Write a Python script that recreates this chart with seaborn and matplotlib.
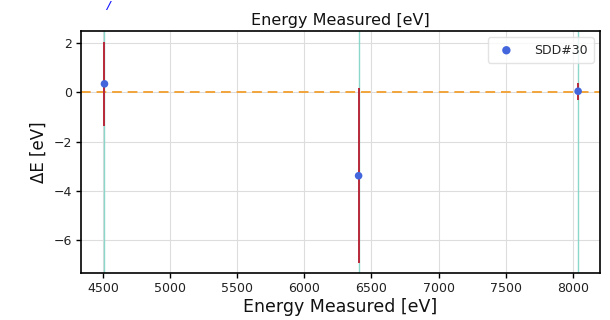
import matplotlib
matplotlib.use("Agg")
import matplotlib.pyplot as plt
import seaborn as sns
import pandas as pd

# Data
energy = [4510, 6404, 8040]
delta_e = [0.35, -3.39, 0.05]
delta_err = [1.70, 3.57, 0.35]
label = "SDD#30"

sns.set_style("whitegrid")
plt.rcParams['font.family'] = ['DejaVu Sans']

fig = plt.figure(figsize=(6.1, 3.2), dpi=100)
ax = fig.add_axes([0.133, 0.146, 0.8506, 0.757])

df = pd.DataFrame({"E": energy, "dE": delta_e, "err": delta_err})

for e in energy:
    ax.axvline(e, color="#7fd3c4", lw=1.0, alpha=0.9, zorder=1)
ax.axhline(0, color="#f2a43a", lw=1.4, ls=(0, (5, 3)), zorder=2)
ax.errorbar(df["E"], df["dE"], yerr=df["err"], fmt="none",
            ecolor="#b8283a", elinewidth=1.4, zorder=3)
sns.scatterplot(data=df, x="E", y="dE", ax=ax, color="#4466dd", s=30,
                edgecolor="none", label=label, zorder=4)

ax.set_xlim(4336, 8203)
ax.set_ylim(-7.36, 2.5)
ax.set_xticks([4500, 5000, 5500, 6000, 6500, 7000, 7500, 8000])
ax.set_yticks([2, 0, -2, -4, -6])
ax.set_yticklabels(["2", "0", "\u22122", "\u22124", "\u22126"])
ax.grid(True, color="#dddddd", lw=0.8)
for s in ax.spines.values():
    s.set_color("black")
    s.set_linewidth(1.2)
ax.tick_params(axis="both", which="major", length=3.5, width=1, color="black",
               labelsize=9, labelcolor="#222222", bottom=True, left=True, pad=3)

ax.set_title("Energy Measured [eV]", fontsize=11.5, pad=4, color="#111111")
ax.set_xlabel("Energy Measured [eV]", fontsize=12.5, labelpad=2, color="#111111")
ax.set_ylabel("\u0394E [eV]", fontsize=12, labelpad=4, color="#111111")

leg = ax.legend(loc="upper right", fontsize=9, frameon=True, borderpad=0.5,
                handletextpad=1.2, markerscale=1.1)
leg.get_frame().set_edgecolor("#dddddd")

fig.text(0.178, 0.998, "/", color="#1a1aff", fontsize=8, fontweight="bold",
         fontstyle="italic", ha="center", va="top")

fig.savefig("out.png", dpi=100)
